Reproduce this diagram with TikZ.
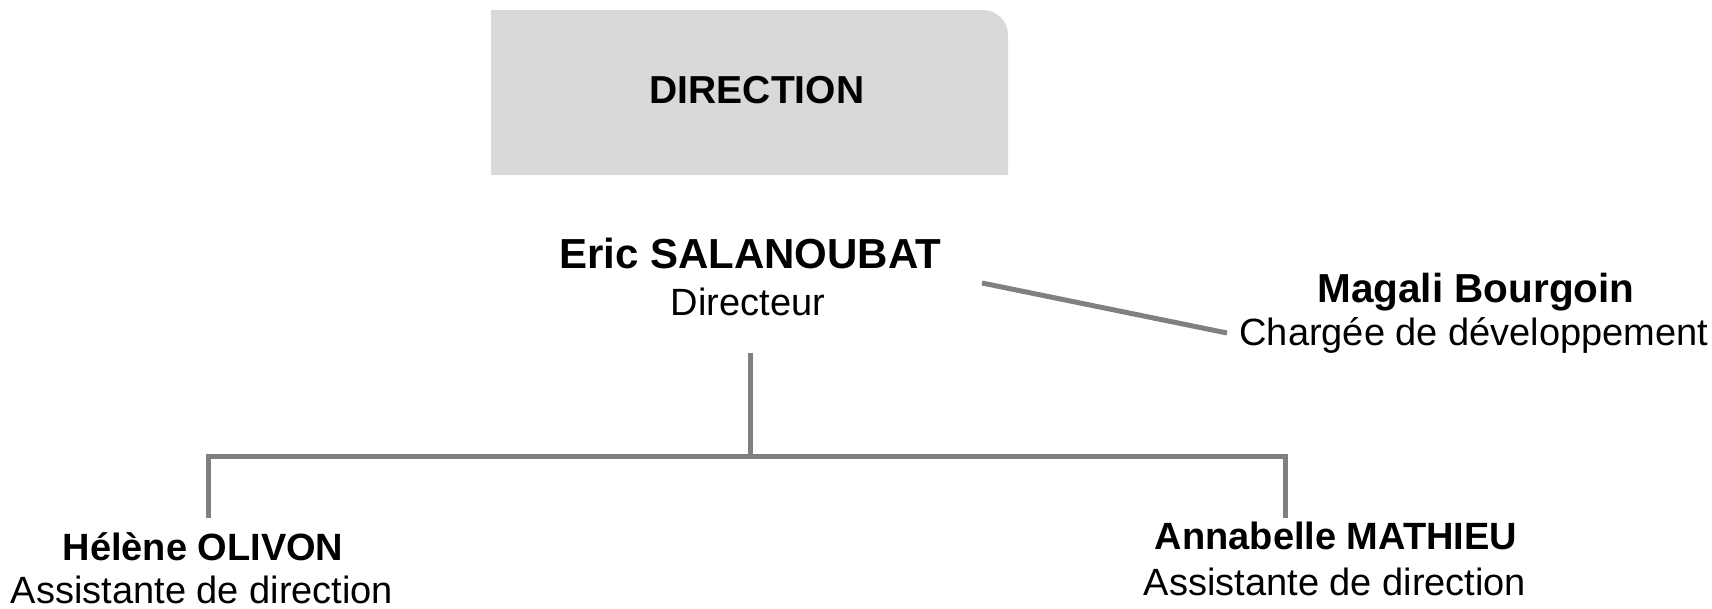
\documentclass[tikz,border=0pt]{standalone}
\usepackage{fontspec}
\setmainfont{Liberation Sans}
\usetikzlibrary{positioning}

\definecolor{boxgray}{HTML}{D9D9D9}
\definecolor{linegray}{HTML}{808080}

\tikzset{
  person/.style={inner sep=0pt, anchor=base, font=\fontsize{38}{38}\selectfont\bfseries},
  role/.style={inner sep=0pt, anchor=base, font=\fontsize{38}{38}\selectfont},
  link/.style={draw=linegray, line width=5pt},
}

\begin{document}
\begin{tikzpicture}[x=1pt, y=-1pt]

  \useasboundingbox (0, 0) rectangle (1712, 608);

  % header box, only the top right corner is rounded
  \fill[boxgray] (491, 175) -- (491, 10) -- (983, 10)
    arc[start angle=-90, end angle=0, radius=25] -- (1008, 175) -- cycle;
  \node[person, font=\fontsize{39}{39}\selectfont\bfseries] (direction) at (757, 103) {DIRECTION};

  \node[person, font=\fontsize{42}{42}\selectfont\bfseries] (eric) at (750, 268) {Eric SALANOUBAT};
  \node[role] (eric role) at (748, 315) {Directeur};

  \node[person, font=\fontsize{40.5}{40.5}\selectfont\bfseries] (magali) at (1476, 302) {Magali Bourgoin};
  \node[role] (magali role) at (1474, 345) {Chargée de développement};

  \node[person] (helene) at (203, 560) {Hélène OLIVON};
  \node[role] (helene role) at (202, 603) {Assistante de direction};

  \node[person] (annabelle) at (1336, 549) {Annabelle MATHIEU};
  \node[role] (annabelle role) at (1335, 595) {Assistante de direction};

  % connectors
  \coordinate (eric side) at (982, 283);
  \coordinate (magali side) at (1227, 333);
  \draw[link] (eric side) -- (magali side);

  \coordinate (trunk top) at (750, 353);
  \coordinate (bar mid) at (750, 456);
  \coordinate (bar left) at (208, 456);
  \coordinate (bar right) at (1285, 456);
  \coordinate (helene top) at (208, 518);
  \coordinate (annabelle top) at (1285, 518);

  \draw[link] (trunk top) -- (bar mid);
  \draw[link] (helene top) -- (bar left) -- (bar right) -- (annabelle top);

\end{tikzpicture}
\end{document}
